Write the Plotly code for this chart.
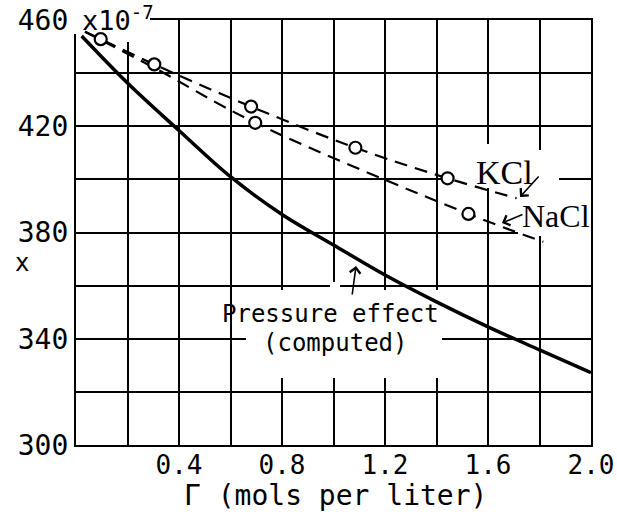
import plotly.graph_objects as go

# ---------------- data ----------------
# open circles (observed points)
kcl_pts_x = [0.096, 0.304, 0.680, 1.085, 1.443]
kcl_pts_y = [452.8, 443.3, 427.4, 411.9, 400.4]
nacl_pts_x = [0.696, 1.524]
nacl_pts_y = [421.3, 387.0]

# dashed curves drawn through the points
kcl_line_x = [0.035, 0.096, 0.304, 0.680, 1.085, 1.443, 1.711]
kcl_line_y = [455.6, 452.8, 443.3, 427.4, 411.9, 400.4, 392.9]
nacl_line_x = [0.035, 0.096, 0.304, 0.696, 1.524, 1.815]
nacl_line_y = [455.6, 452.5, 442.0, 421.3, 387.0, 376.5]

# computed pressure effect (solid curve)
pressure_x = [0.022, 0.2, 0.4, 0.6, 0.8, 1.0, 1.2, 1.4, 1.6, 1.8, 2.0]
pressure_y = [454.0, 436.3, 418.4, 401.0, 386.8, 375.3, 364.0, 353.9, 344.5, 335.8, 327.2]

# ticks
x_tickvals = [0.0, 0.2, 0.4, 0.6, 0.8, 1.0, 1.2, 1.4, 1.6, 1.8, 2.0]
x_ticktext = ["", "", "0.4", "", "0.8", "", "1.2", "", "1.6", "", "2.0"]
y_tickvals = [300, 320, 340, 360, 380, 400, 420, 440, 460]
y_ticktext = ["300", "", "340", "", "380", "", "420", "", "460"]

x_title = "Γ (mols per liter)"
y_title = "x"

# ---------------- layout helpers (pixel -> data / paper) ----------------
W, H = 617, 515
L, R, T, B = 76, 591, 20, 445
X0, X1, Y0, Y1 = 0.0, 2.0, 300.0, 460.0


def dx(px):
    return X0 + (px - L) / (R - L) * (X1 - X0)


def dy(py):
    return Y1 - (py - T) / (B - T) * (Y1 - Y0)


def ppx(px):
    return (px - L) / (R - L)


def ppy(py):
    return (B - py) / (B - T)


MONO = "DejaVu Sans Mono"
SERIF = "Liberation Serif"

fig = go.Figure()

fig.add_trace(go.Scatter(x=pressure_x, y=pressure_y, mode="lines",
                         line=dict(color="black", width=3.5, shape="spline", smoothing=1.0),
                         hoverinfo="skip"))
fig.add_trace(go.Scatter(x=kcl_line_x, y=kcl_line_y, mode="lines",
                         line=dict(color="black", width=2.2, dash="13px,8px", shape="spline"),
                         hoverinfo="skip"))
fig.add_trace(go.Scatter(x=nacl_line_x, y=nacl_line_y, mode="lines",
                         line=dict(color="black", width=2.2, dash="13px,8px", shape="spline"),
                         hoverinfo="skip"))
fig.add_trace(go.Scatter(x=kcl_pts_x + nacl_pts_x, y=kcl_pts_y + nacl_pts_y, mode="markers",
                         marker=dict(symbol="circle", size=12, color="white",
                                     line=dict(color="black", width=2.2)),
                         hoverinfo="skip", cliponaxis=False))

# white masks that interrupt the hand-drawn grid around lettering (below traces)
masks = [
    (123, 133, 14, 42),    # top of 0.2 line
    (246, 442, 290, 378),  # Pressure effect text
    (330, 340, 282, 292),
    (442, 559, 174, 184),  # 400 line near KCl
    (484, 494, 144, 188),  # 1.6 line near KCl
    (533, 543, 150, 232),  # 1.8 line near labels
    (518, 595, 226, 236),  # 380 line near NaCl
]
for x0, x1, y0, y1 in masks:
    fig.add_shape(type="rect", xref="x", yref="y", x0=dx(x0), x1=dx(x1), y0=dy(y1), y1=dy(y0),
                  fillcolor="white", line=dict(width=0), layer="between")

# frame gaps in the top-left corner (frame is drawn above traces)
for x0, x1, y0, y1 in [(78, 150, 16, 25), (71, 81, 14, 34)]:
    fig.add_shape(type="rect", xref="paper", yref="paper", x0=ppx(x0), x1=ppx(x1),
                  y0=ppy(y1), y1=ppy(y0), fillcolor="white", line=dict(width=0), layer="above")


def label(px, py, text, family, size, xanchor="center"):
    return dict(x=ppx(px), y=ppy(py), xref="paper", yref="paper", xanchor=xanchor,
                yanchor="middle", text=text, showarrow=False,
                font=dict(family=family, size=size, color="black"))


ann = [
    label(80, 19, "x10<sup>-7</sup>", MONO, 27, xanchor="left"),
    label(504, 172, "KCl", SERIF, 34),
    label(556, 216, "NaCl", SERIF, 32),
    label(330, 314, "Pressure effect", MONO, 24),
    label(335, 343, "(computed)", MONO, 24),
    label(22, 263, y_title, MONO, 24),
    label(335, 495, x_title, MONO, 28),
]
# arrows
ann.append(dict(x=dx(520), y=dy(197), xref="x", yref="y", ax=20, ay=-22, text="",
                showarrow=True, arrowhead=4, arrowsize=1.3, arrowwidth=1.6, arrowcolor="black"))
ann.append(dict(x=dx(502), y=dy(223), xref="x", yref="y", ax=22, ay=-9, text="",
                showarrow=True, arrowhead=4, arrowsize=1.3, arrowwidth=1.6, arrowcolor="black"))
ann.append(dict(x=dx(356), y=dy(266), xref="x", yref="y", ax=-4, ay=30, text="",
                showarrow=True, arrowhead=4, arrowsize=1.3, arrowwidth=1.6, arrowcolor="black"))

fig.update_layout(
    width=W, height=H,
    margin=dict(l=L, r=W - R, t=T, b=H - B, pad=0, autoexpand=False),
    paper_bgcolor="white", plot_bgcolor="white",
    showlegend=False,
    annotations=ann,
    xaxis=dict(range=[X0, X1], tickmode="array", tickvals=x_tickvals, ticktext=x_ticktext,
               showgrid=True, gridcolor="black", gridwidth=2, zeroline=False, automargin=False,
               showline=True, mirror=True, linecolor="black", linewidth=2.2,
               ticks="", ticklabelstandoff=-4,
               tickfont=dict(family=MONO, size=26, color="black")),
    yaxis=dict(range=[Y0, Y1], tickmode="array", tickvals=y_tickvals, ticktext=y_ticktext,
               showgrid=True, gridcolor="black", gridwidth=2, zeroline=False, automargin=False,
               showline=True, mirror=True, linecolor="black", linewidth=2.2,
               ticks="", tickfont=dict(family=MONO, size=28, color="black")),
)

fig.write_html("out.html")
